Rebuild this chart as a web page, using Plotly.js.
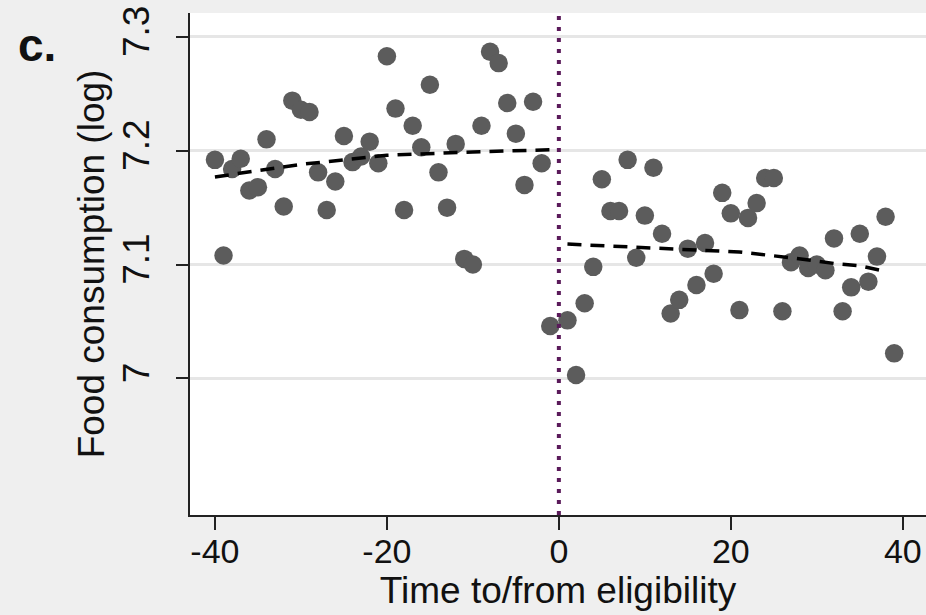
<!DOCTYPE html>
<html>
<head>
<meta charset="utf-8">
<script src="https://cdn.plot.ly/plotly-3.0.1.min.js"></script>
<style>
html,body{margin:0;padding:0;background:#efefef;}
#chart{width:926px;height:615px;}
</style>
</head>
<body>
<div id="chart"></div>
<script>
// Months before eligibility
var xPre = [-40,-39,-38,-37,-36,-35,-34,-33,-32,-31,-30,-29,-28,-27,-26,-25,-24,-23,-22,-21,
            -20,-19,-18,-17,-16,-15,-14,-13,-12,-11,-10,-9,-8,-7,-6,-5,-4,-3,-2,-1];
var yPre = [7.192,7.108,7.184,7.193,7.165,7.168,7.210,7.184,7.151,7.244,7.236,7.234,7.181,7.148,7.173,7.213,7.190,7.195,7.208,7.189,
            7.283,7.237,7.148,7.222,7.203,7.258,7.181,7.150,7.206,7.105,7.100,7.222,7.287,7.277,7.242,7.215,7.170,7.243,7.189,7.046];
// Months after eligibility
var xPost = [1,2,3,4,5,6,7,8,9,10,11,12,13,14,15,16,17,18,19,20,
             21,22,23,24,25,26,27,28,29,30,31,32,33,34,35,36,37,38,39];
var yPost = [7.051,7.003,7.066,7.098,7.175,7.147,7.147,7.192,7.106,7.143,7.185,7.127,7.057,7.069,7.114,7.082,7.119,7.092,7.163,7.145,
             7.060,7.141,7.154,7.176,7.176,7.059,7.102,7.108,7.097,7.100,7.095,7.123,7.059,7.080,7.127,7.085,7.107,7.142,7.022];
// Fitted lines
var fitPreX = [-40,-30,-20,-10,-0.5];
var fitPreY = [7.177,7.188,7.196,7.199,7.201];
var fitPostX = [1,7,15,21,27,32,35,38];
var fitPostY = [7.118,7.116,7.1126,7.111,7.106,7.101,7.099,7.094];
var cutoff = 0;
var xTicks = [-40,-20,0,20,40];
var xTickText = ['-40','-20','0','20','40'];
var yTicks = [7,7.1,7.2,7.3];
var yTickText = ['7','7.1','7.2','7.3'];

var fontFam = 'Liberation Sans, Arial, sans-serif';
var dotColor = '#5c5c5c';

var traces = [
  {x: xPre, y: yPre, type: 'scatter', mode: 'markers', marker: {size: 18.5, color: dotColor}, hoverinfo: 'skip'},
  {x: xPost, y: yPost, type: 'scatter', mode: 'markers', marker: {size: 18.5, color: dotColor}, hoverinfo: 'skip'},
  {x: fitPreX, y: fitPreY, type: 'scatter', mode: 'lines', line: {color: '#000', width: 3.5, dash: '14px,9px'}, hoverinfo: 'skip'},
  {x: fitPostX, y: fitPostY, type: 'scatter', mode: 'lines', line: {color: '#000', width: 3.5, dash: '14px,9px'}, hoverinfo: 'skip'}
];

var layout = {
  width: 926, height: 615,
  margin: {l: 190, r: 0, t: 13, b: 100, pad: 0},
  paper_bgcolor: '#efefef',
  plot_bgcolor: '#ffffff',
  showlegend: false,
  font: {family: fontFam, color: '#111'},
  xaxis: {
    range: [-42.9, 42.7], tickvals: xTicks, ticktext: xTickText,
    ticks: 'outside', ticklen: 13, tickwidth: 2, tickcolor: '#222',
    showline: true, linecolor: '#222', linewidth: 2,
    showgrid: false, zeroline: false, automargin: false,
    tickfont: {size: 34, family: fontFam, color: '#111'},
    ticklabelstandoff: -8,
    title: {text: 'Time to/from eligibility', font: {size: 37, family: fontFam, color: '#111'}, standoff: 0}
  },
  yaxis: {
    range: [6.88, 7.321], tickvals: yTicks, ticktext: yTickText, tickangle: -90,
    ticks: 'outside', ticklen: 12, tickwidth: 2, tickcolor: '#222',
    showline: true, linecolor: '#222', linewidth: 2,
    showgrid: true, gridcolor: '#e6e6e6', gridwidth: 3, zeroline: false, automargin: false,
    tickfont: {size: 37, family: fontFam, color: '#111'},
    ticklabelstandoff: 12,
    title: {text: 'Food consumption (log)', font: {size: 37, family: fontFam, color: '#111'}, standoff: 0}
  },
  shapes: [
    {type: 'line', xref: 'x', yref: 'paper', x0: cutoff, x1: cutoff, y0: 0, y1: 1,
     line: {color: '#5a1a5a', width: 4, dash: '4px,7px'}}
  ],
  annotations: [
    {text: '<b>c.</b>', xref: 'paper', yref: 'paper', x: -0.237, y: 0.992, xanchor: 'left', yanchor: 'top',
     showarrow: false, font: {size: 46, family: fontFam, color: '#111'}}
  ]
};

Plotly.newPlot('chart', traces, layout, {displayModeBar: false, staticPlot: true});
</script>
</body>
</html>
